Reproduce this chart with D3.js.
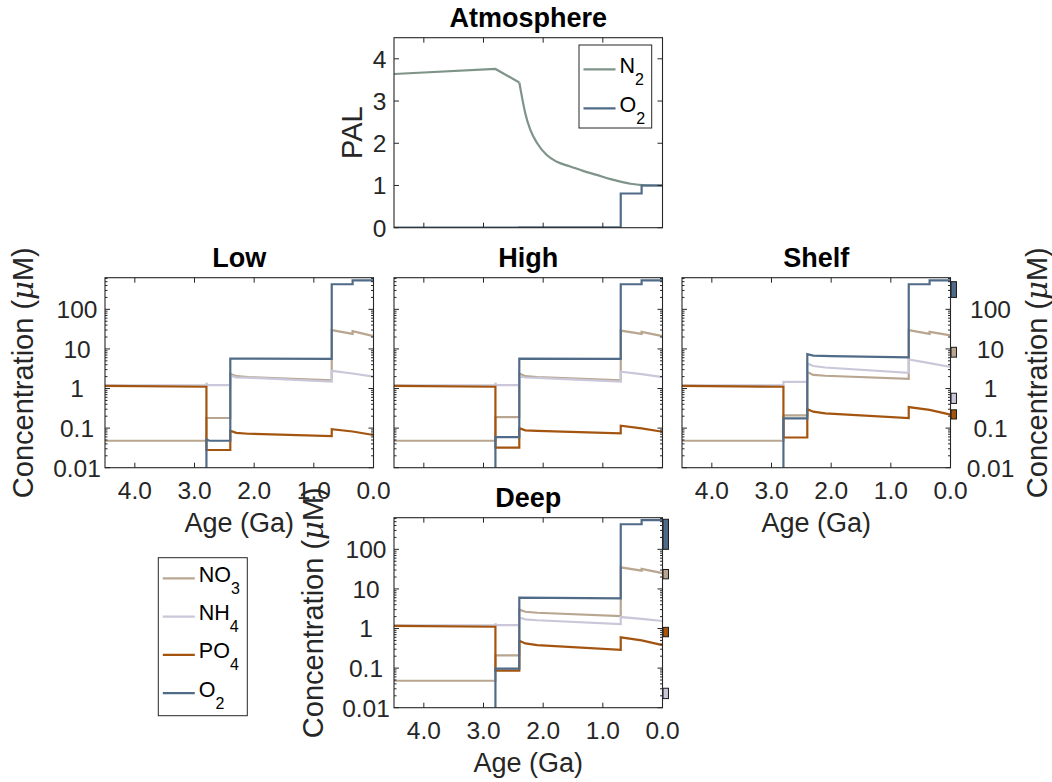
<!DOCTYPE html>
<html>
<head>
<meta charset="utf-8">
<script src="https://cdn.jsdelivr.net/npm/d3@7"></script>
<style>
  body { margin: 0; background: #ffffff; }
  svg text { font-family: 'Liberation Sans', Arial, Helvetica, sans-serif; }
</style>
</head>
<body>
<svg id="fig" width="1052" height="782"></svg>
<script>
// ---- Atmosphere (PAL) : [age Ga, value] ----
const atmN2Early = [[4.5,3.64],[2.8,3.76],[2.4,3.44]];
const atmN2Late = [[2.4,3.44],[2.356,3.10],[2.30,2.71],[2.216,2.32],[2.10,2.00],
  [1.94,1.72],[1.77,1.56],[1.545,1.45],[1.32,1.34],[1.10,1.25],[0.87,1.15],[0.705,1.09],
  [0.537,1.04],[0.34,1.01],[0,1.0]];
const atmO2 = [[4.5,0.0],[2.4,0.0],[2.4,0.01],[0.7,0.01],[0.7,0.81],[0.35,0.81],[0.35,1.0],[0,1.0]];

// ---- Low-latitude surface box (µM) ----
const lowNO3 = [[4.5,0.048],[2.8,0.048],[2.8,0.18],[2.4,0.18],[2.4,2.35],[2.3,2.05],[2.1,1.95],[0.7,1.6],[0.7,30],[0.35,24],[0.35,28],[0,21]];
const lowNH4 = [[4.5,1.2],[2.8,1.2],[2.8,1.4],[2.79,1.22],[2.4,1.22],[2.4,2.1],[2.3,1.92],[2.1,1.88],[0.7,1.5],[0.7,2.8],[0.35,2.4],[0,2.0]];
const lowPO4 = [[4.5,1.17],[2.8,1.11],[2.8,0.028],[2.4,0.028],[2.4,0.086],[2.3,0.076],[2.1,0.072],[0.7,0.063],[0.7,0.094],[0.35,0.082],[0,0.067]];
const lowO2  = [[4.5,1e-5],[2.8,1e-5],[2.8,0.052],[2.75,0.048],[2.4,0.048],[2.4,5.7],[0.7,5.6],[0.7,430],[0.35,430],[0.35,540],[0,540]];

// ---- High-latitude surface box ----
const highNO3 = [[4.5,0.048],[2.8,0.048],[2.8,0.19],[2.4,0.19],[2.4,2.4],[2.3,2.05],[2.1,1.95],[0.7,1.6],[0.7,29],[0.35,24],[0.35,27],[0,21]];
const highNH4 = [[4.5,1.2],[2.8,1.2],[2.8,1.4],[2.79,1.22],[2.4,1.22],[2.4,2.05],[2.3,1.9],[2.1,1.85],[0.7,1.5],[0.7,2.65],[0.35,2.3],[0,1.95]];
const highPO4 = [[4.5,1.17],[2.8,1.11],[2.8,0.032],[2.4,0.032],[2.4,0.10],[2.3,0.088],[2.1,0.085],[0.7,0.074],[0.7,0.115],[0.35,0.098],[0,0.081]];
const highO2  = [[4.5,1e-5],[2.8,1e-5],[2.8,0.059],[2.4,0.059],[2.4,5.7],[0.7,5.6],[0.7,430],[0.35,430],[0.35,540],[0,540]];

// ---- Shelf box ----
const shelfNO3 = [[4.5,0.048],[2.8,0.048],[2.8,0.21],[2.4,0.21],[2.4,2.6],[2.3,2.2],[2.1,2.1],[0.7,1.75],[0.7,30],[0.35,24],[0.35,27],[0,22]];
const shelfNH4 = [[4.5,1.2],[2.8,1.2],[2.8,1.48],[2.4,1.48],[2.4,4.3],[2.3,3.7],[2.1,3.4],[0.7,2.5],[0.7,5.4],[0.35,4.4],[0,3.5]];
const shelfPO4 = [[4.5,1.17],[2.8,1.11],[2.8,0.058],[2.4,0.058],[2.4,0.30],[2.3,0.26],[2.1,0.235],[0.7,0.18],[0.7,0.34],[0.35,0.29],[0,0.22]];
const shelfO2  = [[4.5,1e-5],[2.8,1e-5],[2.8,0.177],[2.4,0.177],[2.4,7.4],[2.3,6.8],[2.0,6.6],[0.7,6.1],[0.7,430],[0.35,430],[0.35,540],[0,540]];

// ---- Deep box ----
const deepNO3 = [[4.5,0.048],[2.8,0.048],[2.8,0.21],[2.4,0.21],[2.4,3.0],[2.3,2.65],[2.1,2.5],[0.7,2.05],[0.7,35],[0.35,29],[0.35,32],[0,25]];
const deepNH4 = [[4.5,1.2],[2.8,1.2],[2.8,1.35],[2.79,1.22],[2.4,1.22],[2.4,1.9],[2.3,1.7],[2.1,1.62],[0.7,1.3],[0.7,1.95],[0.35,1.75],[0,1.55]];
const deepPO4 = [[4.5,1.17],[2.8,1.11],[2.8,0.086],[2.4,0.086],[2.4,0.49],[2.3,0.42],[2.1,0.38],[0.7,0.29],[0.7,0.6],[0.35,0.5],[0,0.38]];
const deepO2  = [[4.5,1e-5],[2.8,1e-5],[2.8,0.097],[2.4,0.097],[2.4,6.0],[0.7,5.8],[0.7,430],[0.35,430],[0.35,550],[0,550]];

// ---- Modern observed ranges [low, high] (µM) ----
const shelfObs = { NO3: [6.2, 11], NH4: [0.42, 0.76], PO4: [0.17, 0.29], O2: [200, 500] };
const deepObs  = { NO3: [18, 31], NH4: [0.017, 0.031], PO4: [0.62, 1.07], O2: [100, 575] };

// ---- Tick labels ----
const ageTicks = [4, 3, 2, 1, 0];
const ageTickLabels = ["4.0", "3.0", "2.0", "1.0", "0.0"];
const concTicks = [0.01, 0.1, 1, 10, 100];
const concTickLabels = ["0.01", "0.1", "1", "10", "100"];
const palTicks = [0, 1, 2, 3, 4];

const speciesOrder = ["NO3", "NH4", "PO4", "O2"];
const colors = { NO3: "#b8a690", NH4: "#c9c7d9", PO4: "#a3540e", O2: "#506b87", N2: "#7f9489" };

const svg = d3.select("#fig");
const axisCol = "#262626";
const W = 268.5, H = 190;
const colX = [105, 394, 682];
const rowY = [37.7, 277.7, 517.7];
const tickFont = 24.5, labelFont = 27, yTitleFont = 29, titleFont = 27;

let clipCount = 0;

function panel(opts) {
  const g = svg.append("g").attr("transform", `translate(${opts.left},${opts.top})`);
  const x = d3.scaleLinear().domain([4.5, 0]).range([0, W]);
  const y = opts.log
    ? d3.scaleLog().domain([0.01, 630]).range([H, 0])
    : d3.scaleLinear().domain([0, 4.5]).range([H, 0]);

  const id = "clip" + (clipCount++);
  g.append("clipPath").attr("id", id).append("rect").attr("width", W).attr("height", H);
  const plot = g.append("g").attr("clip-path", `url(#${id})`);

  opts.series.forEach(s => {
    const line = d3.line().x(d => x(d[0])).y(d => y(d[1])).curve(s.curve || d3.curveLinear);
    plot.append("path").datum(s.data)
      .attr("d", line).attr("fill", "none")
      .attr("stroke", s.color).attr("stroke-width", 2.2)
      .attr("stroke-linejoin", "miter");
  });

  // observed ranges drawn just past the right edge
  if (opts.obs) {
    speciesOrder.forEach(k => {
      const r = opts.obs[k];
      g.append("rect")
        .attr("x", x(0) + 0.5).attr("width", x(-0.1) - x(0) - 0.5)
        .attr("y", y(r[1])).attr("height", y(r[0]) - y(r[1]))
        .attr("fill", colors[k]).attr("stroke", "#1a1a1a").attr("stroke-width", 1);
    });
  }

  // box
  g.append("rect").attr("width", W).attr("height", H)
    .attr("fill", "none").attr("stroke", axisCol).attr("stroke-width", 1.1);

  const tk = g.append("g").attr("stroke", axisCol).attr("stroke-width", 1);
  // x ticks (top and bottom, inward)
  ageTicks.forEach(t => {
    const px = x(t);
    tk.append("line").attr("x1", px).attr("x2", px).attr("y1", H).attr("y2", H - 5);
    tk.append("line").attr("x1", px).attr("x2", px).attr("y1", 0).attr("y2", 5);
  });
  // y ticks (left and right, inward)
  let yMajor, yMinor = [];
  if (opts.log) {
    yMajor = concTicks;
    [0.01, 0.1, 1, 10, 100].forEach(d => {
      for (let m = 2; m <= 9; m++) { const v = d * m; if (v <= 630) yMinor.push(v); }
    });
  } else {
    yMajor = palTicks;
  }
  yMajor.forEach(v => {
    const py = y(v);
    tk.append("line").attr("x1", 0).attr("x2", 5).attr("y1", py).attr("y2", py);
    tk.append("line").attr("x1", W).attr("x2", W - 5).attr("y1", py).attr("y2", py);
  });
  yMinor.forEach(v => {
    const py = y(v);
    tk.append("line").attr("x1", 0).attr("x2", 2.5).attr("y1", py).attr("y2", py);
    tk.append("line").attr("x1", W).attr("x2", W - 2.5).attr("y1", py).attr("y2", py);
  });

  // title
  g.append("text").attr("x", W / 2).attr("y", -11)
    .attr("text-anchor", "middle").attr("font-size", titleFont).attr("font-weight", "bold")
    .attr("fill", "#000").text(opts.title);

  // x tick labels + label
  if (opts.xLabels) {
    ageTicks.forEach((t, i) => {
      g.append("text").attr("x", x(t)).attr("y", H + 31)
        .attr("text-anchor", "middle").attr("font-size", tickFont).attr("fill", axisCol)
        .text(ageTickLabels[i]);
    });
    g.append("text").attr("x", W / 2).attr("y", H + 64.5)
      .attr("text-anchor", "middle").attr("font-size", labelFont).attr("fill", axisCol)
      .text("Age (Ga)");
  }

  // y tick labels
  if (opts.yLabels === "left" || opts.yLabels === "right") {
    const cx = opts.yLabels === "left" ? -28 : W + 40;
    concTicks.forEach((v, i) => {
      g.append("text").attr("x", cx).attr("y", y(v)).attr("dy", "0.36em")
        .attr("text-anchor", "middle").attr("font-size", tickFont).attr("fill", axisCol)
        .text(concTickLabels[i]);
    });
  } else if (opts.yLabels === "pal") {
    palTicks.forEach(v => {
      g.append("text").attr("x", -14.5).attr("y", y(v)).attr("dy", "0.36em")
        .attr("text-anchor", "middle").attr("font-size", tickFont).attr("fill", axisCol)
        .text(String(v));
    });
  }

  // y axis title
  if (opts.yTitle) {
    const bx = opts.yTitle.x;
    const t = g.append("text")
      .attr("transform", `translate(${bx},${H / 2}) rotate(-90)`)
      .attr("text-anchor", "middle").attr("font-size", opts.yTitle.size).attr("fill", axisCol);
    if (opts.yTitle.text === "PAL") {
      t.text("PAL");
    } else {
      t.append("tspan").text("Concentration (");
      t.append("tspan").attr("font-style", "italic").attr("font-family", "'DejaVu Serif', serif").text("\u03bc");
      t.append("tspan").text("M)");
    }
  }
  return g;
}

function conc(no3, nh4, po4, o2) {
  return [
    { data: no3, color: colors.NO3 },
    { data: nh4, color: colors.NH4 },
    { data: po4, color: colors.PO4 },
    { data: o2, color: colors.O2 }
  ];
}

// Atmosphere
panel({
  left: colX[1], top: rowY[0], log: false, title: "Atmosphere",
  series: [
    { data: atmN2Early, color: colors.N2 },
    { data: atmN2Late, color: colors.N2, curve: d3.curveMonotoneX },
    { data: atmO2, color: colors.O2 }
  ],
  yLabels: "pal", yTitle: { text: "PAL", x: -32, size: yTitleFont }
});

// Ocean boxes
panel({ left: colX[0], top: rowY[1], log: true, title: "Low",
  series: conc(lowNO3, lowNH4, lowPO4, lowO2),
  xLabels: true, yLabels: "left", yTitle: { text: "conc", x: -72, size: yTitleFont } });

panel({ left: colX[1], top: rowY[1], log: true, title: "High",
  series: conc(highNO3, highNH4, highPO4, highO2) });

panel({ left: colX[2], top: rowY[1], log: true, title: "Shelf",
  series: conc(shelfNO3, shelfNH4, shelfPO4, shelfO2), obs: shelfObs,
  xLabels: true, yLabels: "right", yTitle: { text: "conc", x: W + 96, size: yTitleFont } });

panel({ left: colX[1], top: rowY[2], log: true, title: "Deep",
  series: conc(deepNO3, deepNH4, deepPO4, deepO2), obs: deepObs,
  xLabels: true, yLabels: "left", yTitle: { text: "conc", x: -71, size: yTitleFont } });

// Legends
function legend(x0, y0, w, h, entries, rowStart, rowStep) {
  const g = svg.append("g");
  g.append("rect").attr("x", x0).attr("y", y0).attr("width", w).attr("height", h)
    .attr("fill", "#fff").attr("stroke", axisCol).attr("stroke-width", 1);
  entries.forEach((e, i) => {
    const ly = rowStart + i * rowStep;
    g.append("line").attr("x1", x0 + 4.5).attr("x2", x0 + 36.5)
      .attr("y1", ly).attr("y2", ly).attr("stroke", e.color).attr("stroke-width", 2.2);
    const t = g.append("text").attr("x", x0 + 40.5).attr("y", ly + 3.5)
      .attr("font-size", 21.5).attr("fill", "#000");
    t.append("tspan").text(e.base);
    t.append("tspan").attr("font-size", 16).attr("dy", 12).text(e.sub);
  });
}

legend(579, 45, 72.7, 83, [
  { base: "N", sub: "2", color: colors.N2 },
  { base: "O", sub: "2", color: colors.O2 }
], 69.3, 39);

legend(158.3, 557.7, 89, 158, [
  { base: "NO", sub: "3", color: colors.NO3 },
  { base: "NH", sub: "4", color: colors.NH4 },
  { base: "PO", sub: "4", color: colors.PO4 },
  { base: "O", sub: "2", color: colors.O2 }
], 578.3, 38.3);
</script>
</body>
</html>
